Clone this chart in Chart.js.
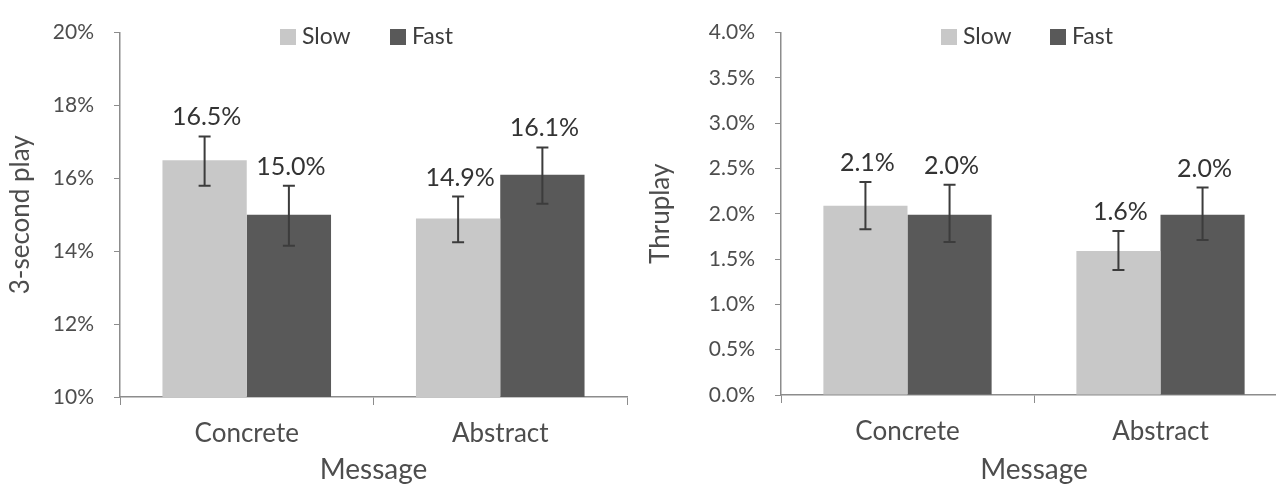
<!DOCTYPE html>
<html>
<head>
<meta charset="utf-8">
<script src="https://cdn.jsdelivr.net/npm/chart.js@4/dist/chart.umd.min.js"></script>
<style>
    html, body { margin: 0; padding: 0; background: #fff; overflow: hidden; width: 1276px; height: 487px; }
    canvas { position: absolute; top: 0; }
    #play-chart { left: 0; }
    #thru-chart { left: 640px; }
    .legend { position: absolute; top: 21px; font-family: Lato, sans-serif; font-size: 23px; color: #3c3c3c; white-space: nowrap; }
    .legend span.box { display: inline-block; width: 16px; height: 16px; margin-right: 6px; vertical-align: -1px; }
</style>
</head>
<body>
<canvas id="play-chart" width="640" height="487"></canvas>
<canvas id="thru-chart" width="660" height="487"></canvas>
<div class="legend" style="left:280px"><span class="box" style="background:#c8c8c8"></span>Slow</div>
<div class="legend" style="left:390px"><span class="box" style="background:#595959"></span>Fast</div>
<div class="legend" style="left:941px"><span class="box" style="background:#c8c8c8"></span>Slow</div>
<div class="legend" style="left:1050px"><span class="box" style="background:#595959"></span>Fast</div>
<script>
const categories = ['Concrete', 'Abstract'];
const seriesNames = ['Slow', 'Fast'];

// 3-second play (%)
const playSlow = [16.5, 14.9];
const playFast = [15.0, 16.1];
const playSlowLow = [15.8, 14.25];
const playSlowHigh = [17.15, 15.5];
const playFastLow = [14.15, 15.3];
const playFastHigh = [15.8, 16.85];
const playTicks = ['10%', '12%', '14%', '16%', '18%', '20%'];

// Thruplay (%)
const thruSlow = [2.09, 1.59];
const thruFast = [1.99, 1.99];
const thruSlowLow = [1.83, 1.38];
const thruSlowHigh = [2.35, 1.81];
const thruFastLow = [1.69, 1.71];
const thruFastHigh = [2.32, 2.29];
const thruTicks = ['0.0%', '0.5%', '1.0%', '1.5%', '2.0%', '2.5%', '3.0%', '3.5%', '4.0%'];

const FONT = 'Lato, sans-serif';
const AXIS_COLOR = '#8c8c8c';
const TEXT_COLOR = '#4d4d4d';

// error bars + value labels
const errorBars = {
    id: 'errorBars',
    afterDatasetsDraw(chart) {
        const ctx = chart.ctx;
        const y = chart.scales.y;
        ctx.save();
        chart.data.datasets.forEach((ds, i) => {
            const meta = chart.getDatasetMeta(i);
            meta.data.forEach((bar, j) => {
                const top = y.getPixelForValue(ds.errHigh[j]);
                const bot = y.getPixelForValue(ds.errLow[j]);
                ctx.strokeStyle = '#3c3c3c';
                ctx.lineWidth = 2;
                ctx.beginPath();
                ctx.moveTo(bar.x, top); ctx.lineTo(bar.x, bot);
                ctx.moveTo(bar.x - 6, top); ctx.lineTo(bar.x + 6, top);
                ctx.moveTo(bar.x - 6, bot); ctx.lineTo(bar.x + 6, bot);
                ctx.stroke();

                ctx.fillStyle = '#333333';
                ctx.font = '25px ' + FONT;
                ctx.textAlign = 'center';
                ctx.textBaseline = 'alphabetic';
                ctx.fillText(ds.data[j].toFixed(1) + '%', bar.x + 2, top - 11);
            });
        });
        ctx.restore();
    }
};

function makeChart(id, opts) {
    return new Chart(document.getElementById(id), {
        type: 'bar',
        data: {
            labels: categories,
            datasets: [
                { label: seriesNames[0], data: opts.slow, errLow: opts.slowLow, errHigh: opts.slowHigh, backgroundColor: '#c8c8c8' },
                { label: seriesNames[1], data: opts.fast, errLow: opts.fastLow, errHigh: opts.fastHigh, backgroundColor: '#595959' }
            ]
        },
        options: {
            responsive: false,
            animation: false,
            devicePixelRatio: 1,
            categoryPercentage: 0.665,
            barPercentage: 1.0,
            layout: { padding: { top: 24, right: opts.padRight, left: 0, bottom: 0 } },
            plugins: {
                legend: { display: false },
                tooltip: { enabled: false }
            },
            scales: {
                x: {
                    afterFit(scale) { scale.height = opts.xHeight; },
                    grid: { offset: true, drawOnChartArea: false, tickLength: 8, color: AXIS_COLOR, tickColor: AXIS_COLOR },
                    border: { color: AXIS_COLOR, width: 1.5 },
                    ticks: { color: TEXT_COLOR, font: { family: FONT, size: 26 }, padding: 13 },
                    title: { display: true, text: 'Message', color: TEXT_COLOR, font: { family: FONT, size: 28 }, padding: { top: 0, bottom: 0 } }
                },
                y: {
                    min: opts.min, max: opts.max,
                    afterFit(scale) { scale.width = opts.yWidth; },
                    afterBuildTicks(scale) {
                        scale.ticks = opts.tickLabels.map(t => ({ value: parseFloat(t) }));
                    },
                    grid: { drawOnChartArea: false, tickLength: 6, color: AXIS_COLOR, tickColor: AXIS_COLOR },
                    border: { color: AXIS_COLOR, width: 1.5 },
                    ticks: {
                        color: TEXT_COLOR, font: { family: FONT, size: 21 }, padding: 20,
                        callback: (v, i) => opts.tickLabels[i]
                    },
                    title: { display: true, text: opts.yTitle, color: TEXT_COLOR, font: { family: FONT, size: 26 }, padding: { top: 5, bottom: 0 } }
                }
            }
        },
        plugins: [errorBars]
    });
}

makeChart('play-chart', {
    slow: playSlow, fast: playFast,
    slowLow: playSlowLow, slowHigh: playSlowHigh,
    fastLow: playFastLow, fastHigh: playFastHigh,
    min: 10, max: 20, tickLabels: playTicks,
    yTitle: '3-second play', yWidth: 120, xHeight: 90, padRight: 13
});

makeChart('thru-chart', {
    slow: thruSlow, fast: thruFast,
    slowLow: thruSlowLow, slowHigh: thruSlowHigh,
    fastLow: thruFastLow, fastHigh: thruFastHigh,
    min: 0, max: 4, tickLabels: thruTicks,
    yTitle: 'Thruplay', yWidth: 141, xHeight: 92, padRight: 13
});
</script>
</body>
</html>
